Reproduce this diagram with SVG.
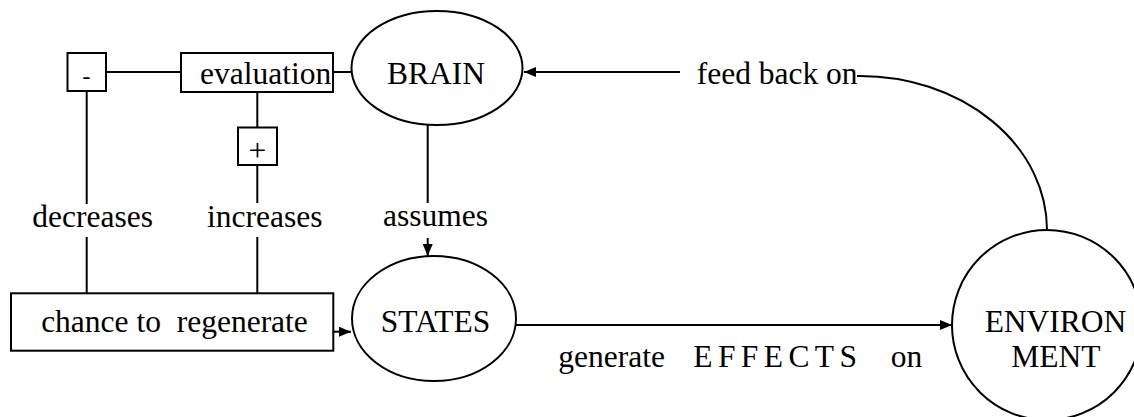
<svg xmlns="http://www.w3.org/2000/svg" width="1134" height="417" viewBox="0 0 1134 417" font-family="'Liberation Serif', 'DejaVu Serif', serif" font-size="31.5">
<style>
.s{fill:none;stroke:#000;stroke-width:2}
.b{fill:#fff;stroke:#000;stroke-width:2}
text{font-family:'Liberation Serif','DejaVu Serif',serif;font-size:31.5px;fill:#000}
.c{text-anchor:middle}
</style>
<defs>
<marker id="ah" viewBox="0 0 12 10" refX="12" refY="5" markerWidth="12" markerHeight="10" markerUnits="userSpaceOnUse" orient="auto"><path d="M0,0 L12,5 L0,10 z" fill="#000"/></marker>
</defs>
<rect width="1134" height="417" fill="#fff"/>
<g id="connectors">
<line class="s" x1="106" y1="72" x2="181" y2="72"/>
<line class="s" x1="333" y1="72" x2="352" y2="72"/>
<line class="s" x1="680" y1="72" x2="524" y2="72" marker-end="url(#ah)"/>
<path class="s" d="M857,76 L860,76 A187,154 0 0 1 1047,230"/>
<line class="s" x1="86.7" y1="91" x2="86.7" y2="204"/>
<line class="s" x1="86.7" y1="237" x2="86.7" y2="293"/>
<line class="s" x1="257.3" y1="92" x2="257.3" y2="128"/>
<line class="s" x1="257.3" y1="165" x2="257.3" y2="203"/>
<line class="s" x1="257.3" y1="237" x2="257.3" y2="293"/>
<line class="s" x1="427.7" y1="125" x2="427.7" y2="203"/>
<line class="s" x1="427.7" y1="238" x2="427.7" y2="256" marker-end="url(#ah)"/>
<line class="s" x1="333" y1="331.7" x2="351" y2="331.7" marker-end="url(#ah)"/>
<line class="s" x1="516" y1="325" x2="952" y2="325" marker-end="url(#ah)"/>
<text x="558.3" y="366.7">generate</text>
<text x="693.3" y="366.7" letter-spacing="5.4">EFFECTS</text>
<text x="890.7" y="366.7">on</text>
<text x="696.7" y="84">feed back on</text>
<text class="c" x="92.7" y="226.7">decreases</text>
<text class="c" x="264.8" y="226.7">increases</text>
<text class="c" x="435.5" y="226">assumes</text>
</g>
<g id="minus">
<rect class="b" x="67.5" y="53" width="38.5" height="38"/>
<text class="c" x="86.5" y="84" style="font-size:24px">-</text>
</g>
<g id="evaluation">
<rect class="b" x="181" y="53" width="152" height="39"/>
<text x="200" y="84.3">evaluation</text>
</g>
<g id="plus">
<rect class="b" x="238" y="127.5" width="39" height="37.5"/>
<text class="c" x="257.3" y="160.7">+</text>
</g>
<g id="brain">
<ellipse class="b" cx="437" cy="68" rx="85.5" ry="57"/>
<text class="c" x="436" y="84.3">BRAIN</text>
</g>
<g id="chance">
<rect class="b" x="11" y="293.3" width="322.3" height="57.4"/>
<text class="c" x="174.5" y="331.7" xml:space="preserve">chance to  regenerate</text>
</g>
<g id="states">
<ellipse class="b" cx="434" cy="318.5" rx="82" ry="62.5"/>
<text class="c" x="435.5" y="331.7">STATES</text>
</g>
<g id="environment">
<circle class="b" cx="1047" cy="325" r="95"/>
<text class="c" x="1055.5" y="331.7">ENVIRON</text>
<text class="c" x="1055.8" y="367.3">MENT</text>
</g>
</svg>
